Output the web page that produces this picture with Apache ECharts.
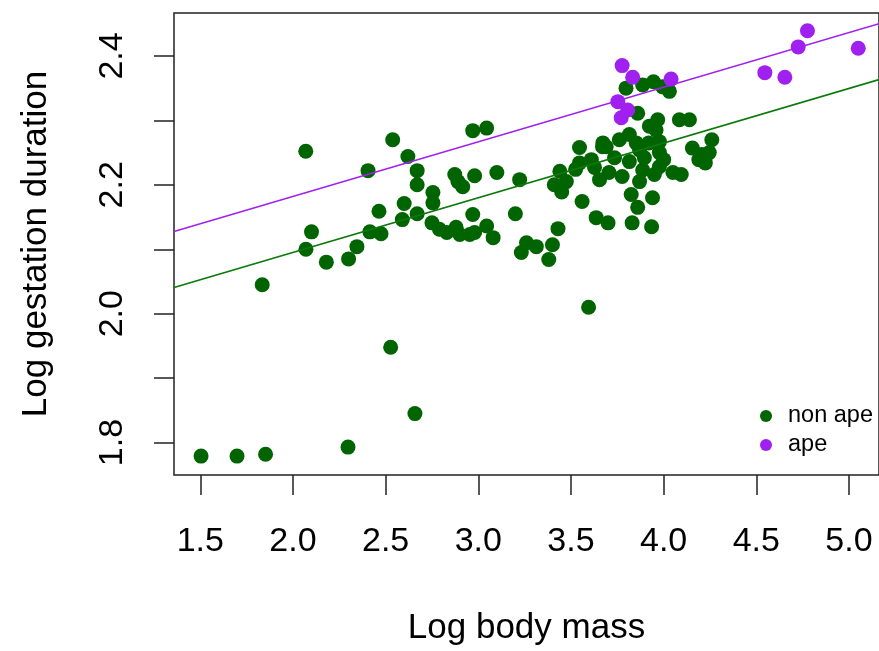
<!DOCTYPE html>
<html>
<head>
<meta charset="utf-8">
<script src="https://cdn.jsdelivr.net/npm/echarts@6/dist/echarts.min.js"></script>
<style>html,body{margin:0;padding:0;background:#fff;}#c{width:879px;height:651px;}</style>
</head>
<body>
<div id="c"></div>
<script>
// Log body mass (x) and log gestation duration (y)
const nonApeMass = [
  1.504,1.698,1.852,2.297,2.658,2.527,3.595,1.834,
  2.069,2.070,2.100,2.180,2.300,2.345,2.415,2.475,2.464,2.405,2.538,2.620,2.670,2.670,2.600,2.670,2.590,
  2.755,2.755,2.750,2.790,2.830,2.880,2.900,2.954,2.980,3.045,3.080,2.873,2.890,2.916,2.980,2.970,3.045,3.100,2.970,
  3.223,3.200,3.260,3.313,3.232,3.400,3.380,3.430,3.636,3.700,3.560,3.440,3.475,3.410,3.450,3.546,3.670,3.825,3.860,3.940,3.830,3.935,
  3.797,3.887,3.945,3.995,4.031,3.860,3.968,3.923,3.959,4.085,4.139,4.260,4.155,3.761,3.815,3.852,3.977,3.672,
  3.690,3.870,3.920,3.977,4.050,4.095,3.705,3.776,3.887,3.977,3.546,3.627,3.735,3.815,3.896,4.000,3.654,3.870,3.950,3.610,3.525,
  4.190,4.246,4.225,4.205
];
const nonApeGestation = [
  1.779,1.779,1.782,1.793,1.845,1.948,2.010,2.045,
  2.252,2.100,2.127,2.080,2.085,2.104,2.127,2.124,2.159,2.222,2.270,2.244,2.222,2.200,2.171,2.155,2.146,
  2.188,2.172,2.141,2.131,2.126,2.134,2.123,2.123,2.126,2.136,2.118,2.216,2.205,2.197,2.214,2.284,2.288,2.219,2.154,
  2.208,2.155,2.110,2.104,2.095,2.107,2.084,2.132,2.149,2.141,2.174,2.221,2.205,2.200,2.189,2.258,2.259,2.185,2.165,2.180,2.141,2.135,
  2.350,2.355,2.360,2.352,2.345,2.311,2.301,2.291,2.285,2.301,2.301,2.270,2.257,2.270,2.278,2.265,2.267,2.265,
  2.259,2.254,2.265,2.250,2.219,2.216,2.219,2.213,2.223,2.228,2.234,2.227,2.242,2.236,2.242,2.239,2.208,2.205,2.216,2.239,2.224,
  2.239,2.250,2.234,2.247
];
const apeMass = [3.776,3.833,4.040,3.753,3.771,3.806,4.546,4.654,4.726,4.776,5.050];
const apeGestation = [2.385,2.367,2.364,2.329,2.304,2.316,2.374,2.367,2.414,2.439,2.412];

// fitted regression lines (endpoints at the visible axis limits)
const fitMassEnds = [1.358, 5.162];
const fitNonApe = [2.0407, 2.3632];
const fitApe = [2.1274, 2.4499];

const xTicks = [1.5,2.0,2.5,3.0,3.5,4.0,4.5,5.0];
const yTicks = [1.8,1.9,2.0,2.1,2.2,2.3,2.4];
const yLabels = [1.8,2.0,2.2,2.4];

const GREEN = '#006400';
const PURPLE = '#A020F0';
const FONT = '"Liberation Sans", Arial, sans-serif';

const pairs = (xs, ys) => xs.map((x, i) => [x, ys[i]]);

const chart = echarts.init(document.getElementById('c'), null, {renderer: 'canvas'});
chart.setOption({
  animation: false,
  backgroundColor: '#fff',
  grid: {left: 174, top: 13, width: 706, height: 466, show: true, borderColor: '#222', borderWidth: 1.5, backgroundColor: 'transparent'},
  xAxis: {
    type: 'value', min: 1.358, max: 5.162,
    name: 'Log body mass', nameLocation: 'middle', nameGap: 136,
    nameTextStyle: {fontFamily: FONT, fontSize: 35, color: '#000'},
    axisLine: {show: false},
    splitLine: {show: false},
    axisTick: {show: true, length: 20, customValues: xTicks, lineStyle: {color: '#222', width: 1.5}},
    axisLabel: {customValues: xTicks, margin: 50, fontFamily: FONT, fontSize: 34, color: '#000',
      formatter: v => v.toFixed(1)}
  },
  yAxis: {
    type: 'value', min: 1.7497, max: 2.4666,
    name: 'Log gestation duration', nameLocation: 'middle', nameGap: 120,
    nameTextStyle: {fontFamily: FONT, fontSize: 35, color: '#000'},
    axisLine: {show: false},
    splitLine: {show: false},
    axisTick: {show: true, length: 20, customValues: yTicks, lineStyle: {color: '#222', width: 1.5}},
    axisLabel: {customValues: yLabels, rotate: 90, margin: 44, fontFamily: FONT, fontSize: 34, color: '#000',
      formatter: v => v.toFixed(1)}
  },
  legend: {
    orient: 'vertical', left: 755, top: 399,
    itemWidth: 34, itemHeight: 12, itemGap: 5,
    icon: 'circle',
    textStyle: {fontFamily: FONT, fontSize: 23.5, color: '#000'},
    data: ['non ape', 'ape']
  },
  series: [
    {name: 'non ape', type: 'scatter', data: pairs(nonApeMass, nonApeGestation), symbol: 'circle', symbolSize: 15,
      itemStyle: {color: GREEN, opacity: 1}, z: 2},
    {name: 'ape', type: 'scatter', data: pairs(apeMass, apeGestation), symbol: 'circle', symbolSize: 15,
      itemStyle: {color: PURPLE, opacity: 1}, z: 3},
    {name: 'fit non ape', type: 'line', data: pairs(fitMassEnds, fitNonApe), symbol: 'none',
      lineStyle: {color: '#0b7a0b', width: 1.6}, z: 4, silent: true},
    {name: 'fit ape', type: 'line', data: pairs(fitMassEnds, fitApe), symbol: 'none',
      lineStyle: {color: PURPLE, width: 1.6}, z: 4, silent: true}
  ]
});
</script>
</body>
</html>
